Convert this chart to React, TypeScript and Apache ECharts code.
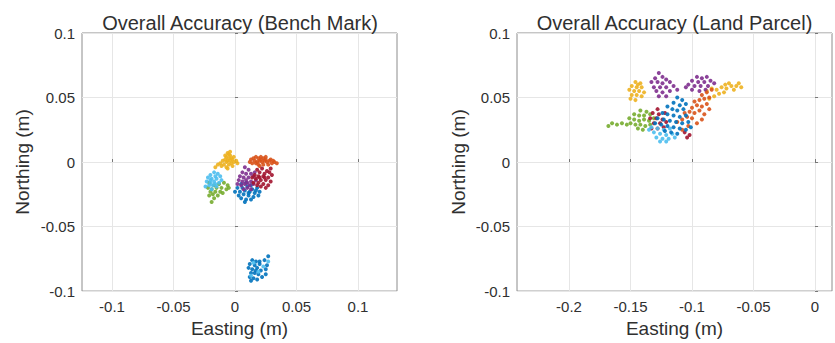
import React, { useEffect, useRef } from "react";
import * as echarts from "echarts";

// ---------- Tick labels ----------
const benchXTicks = [-0.1, -0.05, 0, 0.05, 0.1];
const parcelXTicks = [-0.2, -0.15, -0.1, -0.05, 0];

const seriesColors = {
  blue: "#0072BD",
  orange: "#D95319",
  yellow: "#EDB120",
  purple: "#7E2F8E",
  green: "#77AC30",
  lightBlue: "#4DBEEE",
  darkRed: "#A2142F",
};

// ---------- Bench Mark data (Easting, Northing) ----------
const benchYellow = [[-0.006,0.007],[-0.005,0.006],[-0.004,0.005],[-0.007,0.004],[-0.003,0.003],[-0.005,0.003],[-0.008,0.002],[-0.002,0.002],[-0.006,0.001],[-0.004,0.001],[-0.01,0.001],[-0.001,0.0],[-0.007,0.0],[-0.003,-0.001],[-0.012,-0.001],[-0.009,-0.002],[-0.005,-0.002],[-0.014,-0.002],[-0.002,-0.003],[-0.011,-0.003],[-0.007,-0.004],[0.001,0.001],[0.002,-0.001],[-0.016,-0.004],[-0.004,0.008],[-0.008,0.005],[-0.001,0.004],[-0.006,-0.005]];
const benchOrange = [[0.013,0.002],[0.015,0.003],[0.017,0.004],[0.019,0.003],[0.021,0.004],[0.023,0.003],[0.025,0.004],[0.016,0.001],[0.018,0.0],[0.02,0.001],[0.022,0.0],[0.024,0.001],[0.026,0.0],[0.028,0.001],[0.03,-0.001],[0.032,0.0],[0.034,-0.001],[0.019,-0.002],[0.023,-0.002],[0.027,-0.002],[0.014,-0.001],[0.021,0.002],[0.017,-0.001],[0.025,0.002],[0.029,0.002],[0.012,0.0],[0.02,-0.003],[0.031,0.001]];
const benchDarkRed = [[0.018,-0.006],[0.022,-0.005],[0.026,-0.007],[0.02,-0.008],[0.024,-0.009],[0.028,-0.008],[0.016,-0.01],[0.019,-0.011],[0.023,-0.011],[0.027,-0.012],[0.03,-0.01],[0.017,-0.013],[0.021,-0.014],[0.025,-0.014],[0.029,-0.015],[0.015,-0.016],[0.019,-0.016],[0.023,-0.017],[0.027,-0.018],[0.021,-0.019],[0.025,-0.02],[0.014,-0.012],[0.029,-0.005],[0.018,-0.018],[0.024,-0.012],[0.02,-0.012]];
const benchPurple = [[0.008,-0.004],[0.011,-0.006],[0.006,-0.008],[0.009,-0.009],[0.013,-0.009],[0.004,-0.011],[0.007,-0.012],[0.011,-0.012],[0.015,-0.011],[0.003,-0.014],[0.006,-0.015],[0.009,-0.014],[0.013,-0.015],[0.017,-0.014],[0.005,-0.018],[0.008,-0.017],[0.012,-0.018],[0.015,-0.017],[0.002,-0.017],[0.01,-0.02],[0.007,-0.021],[0.013,-0.021],[0.016,-0.008],[0.01,-0.016]];
const benchBlue = [[0.005,-0.017],[0.009,-0.016],[0.013,-0.018],[0.002,-0.02],[0.006,-0.02],[0.01,-0.019],[0.014,-0.021],[0.018,-0.02],[0.0,-0.023],[0.004,-0.023],[0.008,-0.022],[0.012,-0.023],[0.016,-0.024],[0.02,-0.023],[0.003,-0.026],[0.007,-0.025],[0.011,-0.026],[0.015,-0.027],[0.019,-0.026],[0.005,-0.028],[0.009,-0.029],[0.013,-0.029],[0.008,-0.031],[0.017,-0.022],[0.011,-0.024]];
const benchLightBlue = [[-0.017,-0.008],[-0.014,-0.009],[-0.02,-0.01],[-0.016,-0.011],[-0.012,-0.011],[-0.022,-0.012],[-0.019,-0.013],[-0.015,-0.013],[-0.011,-0.014],[-0.023,-0.015],[-0.02,-0.016],[-0.017,-0.015],[-0.013,-0.016],[-0.021,-0.018],[-0.018,-0.018],[-0.015,-0.019],[-0.024,-0.019],[-0.019,-0.021],[-0.016,-0.017],[-0.02,-0.014],[0.015,-0.078],[0.019,-0.085],[0.023,-0.081],[0.013,-0.088],[0.027,-0.077]];
const benchGreen = [[-0.021,-0.016],[-0.017,-0.018],[-0.013,-0.017],[-0.009,-0.016],[-0.006,-0.018],[-0.022,-0.02],[-0.019,-0.021],[-0.015,-0.02],[-0.011,-0.02],[-0.007,-0.021],[-0.02,-0.023],[-0.016,-0.023],[-0.012,-0.023],[-0.018,-0.025],[-0.014,-0.026],[-0.021,-0.026],[-0.017,-0.028],[-0.019,-0.031],[-0.01,-0.024],[-0.005,-0.02]];
const benchBlueSouth = [[0.014,-0.076],[0.017,-0.077],[0.012,-0.079],[0.016,-0.08],[0.02,-0.079],[0.011,-0.082],[0.014,-0.083],[0.018,-0.082],[0.021,-0.084],[0.013,-0.086],[0.016,-0.086],[0.019,-0.087],[0.012,-0.089],[0.015,-0.09],[0.018,-0.091],[0.022,-0.089],[0.025,-0.087],[0.026,-0.08],[0.024,-0.076],[0.027,-0.073],[0.025,-0.083],[0.017,-0.084],[0.013,-0.092],[0.02,-0.077]];

// ---------- Land Parcel data (Easting, Northing) ----------
const parcelYellow = [[-0.146,0.062],[-0.142,0.061],[-0.149,0.059],[-0.145,0.058],[-0.141,0.058],[-0.151,0.056],[-0.147,0.055],[-0.143,0.055],[-0.149,0.052],[-0.145,0.052],[-0.141,0.051],[-0.15,0.049],[-0.146,0.048],[-0.139,0.054],[-0.144,0.06],[-0.088,0.055],[-0.084,0.057],[-0.08,0.056],[-0.076,0.058],[-0.072,0.057],[-0.068,0.059],[-0.064,0.059],[-0.06,0.058],[-0.078,0.053],[-0.074,0.054],[-0.07,0.061],[-0.066,0.056],[-0.082,0.051],[-0.086,0.049],[-0.073,0.06],[-0.062,0.061]];
const parcelPurple = [[-0.127,0.069],[-0.124,0.066],[-0.13,0.065],[-0.121,0.064],[-0.133,0.062],[-0.128,0.062],[-0.124,0.061],[-0.118,0.062],[-0.131,0.058],[-0.126,0.058],[-0.121,0.058],[-0.115,0.059],[-0.129,0.055],[-0.124,0.054],[-0.118,0.055],[-0.112,0.056],[-0.127,0.051],[-0.121,0.051],[-0.096,0.066],[-0.092,0.065],[-0.088,0.066],[-0.1,0.063],[-0.095,0.062],[-0.09,0.062],[-0.085,0.063],[-0.103,0.06],[-0.098,0.059],[-0.093,0.059],[-0.087,0.059],[-0.082,0.061],[-0.1,0.056],[-0.094,0.055],[-0.089,0.056],[-0.105,0.058]];
const parcelOrange = [[-0.112,0.031],[-0.108,0.033],[-0.104,0.035],[-0.1,0.034],[-0.106,0.038],[-0.102,0.039],[-0.098,0.038],[-0.094,0.04],[-0.1,0.042],[-0.096,0.044],[-0.092,0.043],[-0.088,0.045],[-0.098,0.047],[-0.094,0.048],[-0.09,0.049],[-0.086,0.05],[-0.092,0.052],[-0.088,0.054],[-0.084,0.056],[-0.096,0.03],[-0.092,0.033],[-0.103,0.028],[-0.108,0.025],[-0.09,0.037],[-0.086,0.041]];
const parcelGreen = [[-0.142,0.04],[-0.137,0.039],[-0.147,0.037],[-0.143,0.036],[-0.139,0.036],[-0.134,0.037],[-0.151,0.034],[-0.147,0.033],[-0.143,0.032],[-0.139,0.033],[-0.135,0.032],[-0.15,0.03],[-0.146,0.029],[-0.142,0.029],[-0.138,0.028],[-0.134,0.029],[-0.144,0.026],[-0.14,0.025],[-0.153,0.029],[-0.157,0.03],[-0.161,0.029],[-0.165,0.03],[-0.168,0.028],[-0.131,0.034]];
const parcelDarkRed = [[-0.128,0.041],[-0.132,0.038],[-0.127,0.037],[-0.122,0.038],[-0.134,0.034],[-0.129,0.034],[-0.124,0.033],[-0.131,0.03],[-0.126,0.03],[-0.121,0.031],[-0.133,0.026],[-0.128,0.026],[-0.123,0.027],[-0.106,0.023],[-0.102,0.021],[-0.104,0.019]];
const parcelLightBlue = [[-0.133,0.027],[-0.128,0.026],[-0.123,0.025],[-0.118,0.026],[-0.131,0.023],[-0.126,0.022],[-0.121,0.021],[-0.116,0.022],[-0.129,0.019],[-0.124,0.018],[-0.119,0.018],[-0.126,0.016],[-0.121,0.016],[-0.135,0.025],[-0.114,0.019]];
const parcelBlue = [[-0.112,0.05],[-0.108,0.048],[-0.115,0.046],[-0.11,0.044],[-0.105,0.045],[-0.12,0.043],[-0.116,0.041],[-0.112,0.04],[-0.107,0.041],[-0.124,0.038],[-0.12,0.037],[-0.115,0.036],[-0.11,0.035],[-0.105,0.036],[-0.128,0.034],[-0.123,0.033],[-0.118,0.032],[-0.113,0.031],[-0.108,0.03],[-0.103,0.031],[-0.125,0.029],[-0.12,0.028],[-0.115,0.027],[-0.11,0.026],[-0.105,0.025],[-0.122,0.024],[-0.117,0.023],[-0.112,0.022],[-0.13,0.03],[-0.101,0.027]];

const FONT = "Liberation Sans, Arial, Helvetica, sans-serif";
const TEXT = "#303030";
const fmt = (v: number) => String(+Number(v).toFixed(4));

function makeXAxis(gridIndex: number, min: number, max: number, ticks: number[]) {
  return {
    type: "value",
    gridIndex,
    min,
    max,
    splitNumber: 5,
    name: "Easting (m)",
    nameLocation: "middle",
    nameGap: 27,
    nameTextStyle: { fontSize: 19, color: TEXT, fontFamily: FONT },
    axisLine: { show: false },
    axisTick: { show: true, inside: true, length: 3, customValues: ticks, lineStyle: { color: "#777" } },
    axisLabel: { customValues: ticks, formatter: fmt, fontSize: 15, color: TEXT, fontFamily: FONT, margin: 8 },
    splitLine: { show: true, lineStyle: { color: "#e6e6e6", width: 1 } },
  };
}

function makeYAxis(gridIndex: number, nameGap: number) {
  return {
    type: "value",
    gridIndex,
    min: -0.1,
    max: 0.1,
    interval: 0.05,
    name: "Northing (m)",
    nameLocation: "middle",
    nameGap,
    nameTextStyle: { fontSize: 19, color: TEXT, fontFamily: FONT },
    axisLine: { show: false },
    axisTick: { show: true, inside: true, length: 3, lineStyle: { color: "#777" } },
    axisLabel: { formatter: fmt, fontSize: 15, color: TEXT, fontFamily: FONT, margin: 7 },
    splitLine: { show: true, lineStyle: { color: "#e6e6e6", width: 1 } },
  };
}

function scatter(idx: number, data: number[][], color: string) {
  return {
    type: "scatter",
    xAxisIndex: idx,
    yAxisIndex: idx,
    data,
    symbol: "circle",
    symbolSize: 4,
    itemStyle: { color, opacity: 0.9 },
    silent: true,
  };
}

export default function App() {
  const ref = useRef<HTMLDivElement>(null);
  useEffect(() => {
    if (!ref.current) return;
    const chart = echarts.init(ref.current, null, { renderer: "svg" });
    chart.setOption({
      animation: false,
      backgroundColor: "#ffffff",
      title: [
        { text: "Overall Accuracy (Bench Mark)", left: 235, top: 8, textAlign: "center", textStyle: { fontSize: 20, fontWeight: "normal", color: TEXT, fontFamily: FONT } },
        { text: "Overall Accuracy (Land Parcel)", left: 669.5, top: 8, textAlign: "center", textStyle: { fontSize: 20, fontWeight: "normal", color: TEXT, fontFamily: FONT } },
      ],
      grid: [
        { left: 82, top: 33, width: 315, height: 261, show: true, borderColor: "#8c8c8c", borderWidth: 1, backgroundColor: "transparent" },
        { left: 517, top: 33, width: 315, height: 261, show: true, borderColor: "#8c8c8c", borderWidth: 1, backgroundColor: "transparent" },
      ],
      xAxis: [
        makeXAxis(0, -0.1244, 0.1317, benchXTicks),
        makeXAxis(1, -0.2423, 0.0138, parcelXTicks),
      ],
      yAxis: [makeYAxis(0, 50), makeYAxis(1, 49)],
      series: [
        scatter(0, benchBlue, seriesColors.blue),
        scatter(0, benchBlueSouth, seriesColors.blue),
        scatter(0, benchOrange, seriesColors.orange),
        scatter(0, benchYellow, seriesColors.yellow),
        scatter(0, benchPurple, seriesColors.purple),
        scatter(0, benchGreen, seriesColors.green),
        scatter(0, benchLightBlue, seriesColors.lightBlue),
        scatter(0, benchDarkRed, seriesColors.darkRed),
        scatter(1, parcelYellow, seriesColors.yellow),
        scatter(1, parcelPurple, seriesColors.purple),
        scatter(1, parcelOrange, seriesColors.orange),
        scatter(1, parcelGreen, seriesColors.green),
        scatter(1, parcelDarkRed, seriesColors.darkRed),
        scatter(1, parcelLightBlue, seriesColors.lightBlue),
        scatter(1, parcelBlue, seriesColors.blue),
      ],
    });
    return () => chart.dispose();
  }, []);
  return <div ref={ref} style={{ width: 835, height: 343, position: "absolute", left: 0, top: 0 }} />;
}
